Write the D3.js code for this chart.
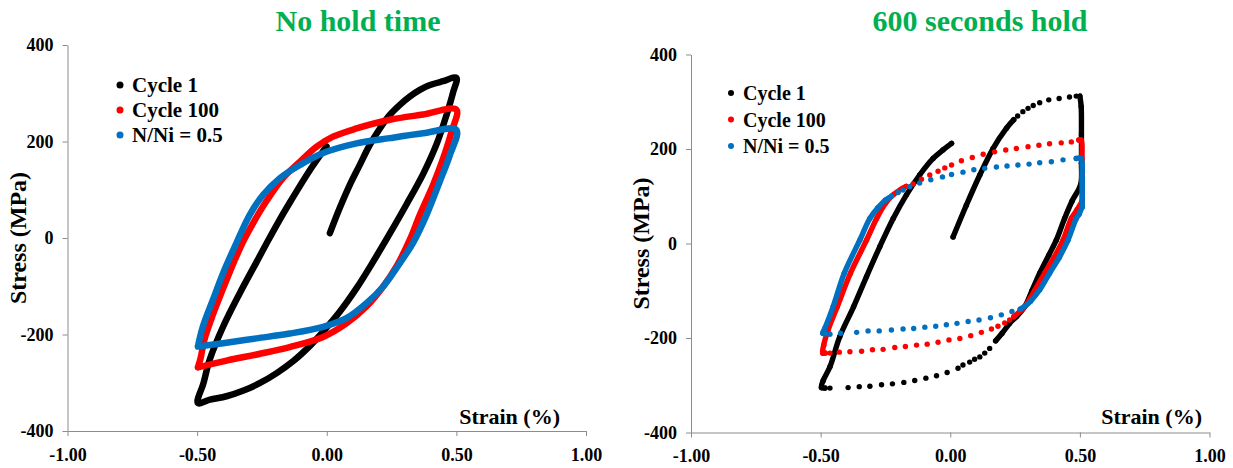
<!DOCTYPE html>
<html><head><meta charset="utf-8">
<script src="https://cdn.jsdelivr.net/npm/d3@7/dist/d3.min.js"></script>
<style>
body{margin:0;background:#fff}
text{font-family:"Liberation Serif","Times New Roman",serif;font-weight:bold}
</style>
</head><body>
<svg id="chart" width="1233" height="468"></svg>
<script>
// ---------- data ----------
const xTicks = [-1, -0.5, 0, 0.5, 1];
const yTicks = [-400, -200, 0, 200, 400];
const seriesNames = ["Cycle 1", "Cycle 100", "N/Ni = 0.5"];
const seriesColors = ["#000000", "#FF0000", "#0070C0"];
const panelTitles = ["No hold time", "600 seconds hold"];
const xLabel = "Strain (%)";
const yLabel = "Stress (MPa)";

// No hold time: [strain %, stress MPa]
const noHoldCycle1 = [
  [0.012,10],[0.05,62],[0.089,110],[0.127,151],[0.166,193],[0.205,227],[0.243,255],[0.282,276],
  [0.32,293],[0.359,307],[0.398,317],[0.449,325],[0.5,332],
  [0.488,303],[0.462,255],[0.424,195],[0.372,133],[0.308,70],[0.243,9],[0.179,-49],[0.115,-104],
  [0.05,-153],[-0.014,-194],[-0.064,-223],[-0.129,-255],[-0.193,-280],[-0.259,-301],[-0.321,-316],
  [-0.387,-328],[-0.45,-335],[-0.497,-342],
  [-0.475,-300],[-0.452,-253],[-0.4,-184],[-0.336,-115],[-0.271,-50],[-0.233,-12],[-0.19,30],
  [-0.143,73],[-0.066,140],[-0.001,190]
];
const noHoldCycle100 = [
  [-0.497,-268],[-0.487,-250],[-0.472,-211],[-0.44,-160],[-0.40,-105],[-0.36,-52],[-0.32,-5],
  [-0.285,30],[-0.233,76],[-0.169,124],[-0.104,158],[-0.04,189],[0.024,210],[0.115,227],[0.243,245],
  [0.372,256],[0.5,266],
  [0.481,220],[0.449,165],[0.41,110],[0.359,48],[0.32,-4],[0.269,-59],[0.217,-101],[0.153,-142],
  [0.076,-177],[-0.014,-205],[-0.143,-226],[-0.257,-240],[-0.386,-254],[-0.497,-268]
];
const noHoldHalfLife = [
  [-0.497,-225],[-0.478,-184],[-0.439,-128],[-0.4,-73],[-0.349,-11],[-0.297,48],[-0.246,89],
  [-0.181,124],[-0.104,151],[-0.014,176],[0.115,196],[0.243,207],[0.372,217],[0.5,224],
  [0.475,172],[0.436,117],[0.385,48],[0.333,-10],[0.282,-52],[0.217,-101],[0.153,-135],[0.076,-166],
  [-0.014,-184],[-0.143,-198],[-0.271,-208],[-0.4,-218],[-0.497,-225]
];

// 600 s hold: [strain %, stress MPa, densely sampled (1) / sparse sample (0)]
const holdCycle1 = [
  [0.011,14,1],[0.062,81,1],[0.114,145,1],[0.165,201,1],[0.217,244,1],[0.245,262,1],
  [0.26,270,0],[0.28,279,0],[0.30,286,0],[0.32,292,0],[0.345,298,0],[0.38,304,0],[0.42,307,0],
  [0.46,310,0],[0.486,312,0],[0.500,312,1],
  [0.505,290,1],[0.506,230,1],[0.506,170,1],[0.503,125,1],
  [0.47,90,1],[0.441,53,1],[0.409,7,1],[0.38,-25,1],[0.345,-63,1],[0.315,-100,1],[0.287,-134,1],
  [0.255,-155,1],[0.229,-169,1],[0.2,-190,1],[0.175,-206,1],
  [0.152,-222,0],[0.133,-232,0],[0.114,-240,0],[0.094,-245,0],[0.075,-251,0],[0.049,-257,0],
  [0.03,-264,0],[-0.012,-273,0],[-0.053,-280,0],[-0.094,-285,0],[-0.137,-290,0],[-0.179,-294,0],
  [-0.223,-297,0],[-0.265,-299,0],[-0.31,-302,0],[-0.351,-303,0],[-0.394,-305,0],[-0.464,-306,0],
  [-0.483,-306,1],
  [-0.497,-305,1],[-0.49,-290,1],[-0.464,-261,1],[-0.426,-197,1],[-0.373,-134,1],[-0.323,-70,1],
  [-0.272,-7,1],[-0.22,53,1],[-0.169,103,1],[-0.118,145,1],[-0.066,180,1],[-0.028,198,1],[0.005,212,1]
];
const holdCycle100 = [
  [0.509,90,1],[0.49,72,1],[0.467,53,1],[0.435,7,1],[0.40,-30,1],[0.364,-63,1],[0.325,-100,1],
  [0.29,-132,1],[0.27,-143,1],[0.245,-155,1],
  [0.229,-162,0],[0.21,-168,0],[0.184,-175,0],[0.159,-181,0],[0.12,-188,0],[0.079,-195,0],
  [0.037,-201,0],[-0.005,-204,0],[-0.047,-209,0],[-0.089,-213,0],[-0.13,-215,0],[-0.173,-218,0],
  [-0.214,-220,0],[-0.259,-224,0],[-0.3,-225,0],[-0.342,-228,0],[-0.387,-229,0],[-0.428,-230,0],
  [-0.464,-232,0],[-0.482,-232,1],
  [-0.492,-232,1],[-0.488,-215,1],[-0.471,-183,1],[-0.436,-134,1],[-0.385,-63,1],[-0.323,7,1],
  [-0.284,53,1],[-0.25,85,1],[-0.22,103,1],[-0.19,115,1],[-0.17,121,1],
  [-0.143,126,0],[-0.111,136,0],[-0.079,145,0],[-0.047,153,0],[-0.021,160,0],[0.005,166,0],
  [0.043,175,0],[0.085,182,0],[0.127,189,0],[0.171,194,0],[0.214,198,0],[0.255,201,0],[0.3,205,0],
  [0.342,208,0],[0.383,211,0],[0.428,213,0],[0.467,215,0],[0.496,219,1],
  [0.505,219,1],[0.508,180,1],[0.509,130,1],[0.509,90,1]
];
const holdHalfLife = [
  [0.509,78,1],[0.497,62,1],[0.486,53,1],[0.454,7,1],[0.42,-30,1],[0.383,-63,1],[0.345,-98,1],
  [0.31,-122,1],[0.29,-132,1],[0.27,-139,1],
  [0.238,-144,0],[0.197,-151,0],[0.155,-157,0],[0.111,-162,0],[0.069,-165,0],[0.026,-169,0],
  [-0.015,-172,0],[-0.056,-175,0],[-0.098,-177,0],[-0.141,-180,0],[-0.182,-181,0],[-0.227,-183,0],
  [-0.274,-185,0],[-0.317,-185,0],[-0.361,-188,0],[-0.423,-190,0],[-0.464,-192,0],[-0.482,-191,1],
  [-0.492,-190,1],[-0.484,-180,1],[-0.452,-134,1],[-0.409,-63,1],[-0.349,7,1],[-0.31,53,1],
  [-0.28,75,1],[-0.25,92,1],[-0.227,100,1],
  [-0.201,108,0],[-0.182,113,0],[-0.156,120,0],[-0.118,128,0],[-0.075,135,0],[-0.03,141,0],
  [0.005,146,0],[0.049,151,0],[0.091,156,0],[0.133,159,0],[0.178,162,0],[0.219,164,0],[0.261,166,0],
  [0.304,168,0],[0.345,171,0],[0.39,173,0],[0.435,177,0],[0.486,180,1],
  [0.505,180,1],[0.509,140,1],[0.509,78,1]
];

// ---------- drawing ----------
const svg = d3.select("#chart");
const axisColor = "#8C8C8C";

const panels = [
  {title: panelTitles[0], titleX: 358, x0: 67.5, x1: 586, yTop: 45, yBot: 431,
   series: [noHoldCycle1, noHoldCycle100, noHoldHalfLife], dotted: false,
   legX: 120, legY: 85, legStep: 25, legR: 3.5, legFont: 21, yLabX: 26, xLabEnd: 560},
  {title: panelTitles[1], titleX: 980, x0: 691, x1: 1209.5, yTop: 54.5, yBot: 432.5,
   series: [holdCycle1, holdCycle100, holdHalfLife], dotted: true,
   legX: 731, legY: 93, legStep: 26.5, legR: 3, legFont: 20, yLabX: 649, xLabEnd: 1202}
];

panels.forEach(p => {
  const x = d3.scaleLinear().domain([-1, 1]).range([p.x0, p.x1]);
  const y = d3.scaleLinear().domain([-400, 400]).range([p.yBot, p.yTop]);
  const g = svg.append("g");

  // title
  g.append("text").attr("x", p.titleX).attr("y", 31).attr("text-anchor", "middle")
    .attr("fill", "#00B050").attr("font-size", 30).text(p.title);

  // axes
  const ya = g.append("g").attr("transform", `translate(${p.x0},0)`)
    .call(d3.axisLeft(y).tickValues(yTicks).tickSize(5).tickSizeOuter(0).tickPadding(9)
      .tickFormat(d => String(d)));
  const xa = g.append("g").attr("transform", `translate(0,${p.yBot})`)
    .call(d3.axisBottom(x).tickValues(xTicks).tickSize(5).tickSizeOuter(0).tickPadding(12)
      .tickFormat(d => d.toFixed(2)));
  [ya, xa].forEach(a => {
    a.selectAll("path,line").attr("stroke", axisColor).attr("stroke-width", 1);
    a.selectAll("text").attr("font-size", 18).attr("fill", "#000")
      .attr("font-family", '"Liberation Serif","Times New Roman",serif').attr("font-weight", "bold");
  });

  // axis titles
  g.append("text").attr("transform", `translate(${p.yLabX},${(p.yTop + p.yBot) / 2}) rotate(-90)`)
    .attr("text-anchor", "middle").attr("font-size", 24).text(yLabel);
  g.append("text").attr("x", p.xLabEnd).attr("y", 424).attr("text-anchor", "end")
    .attr("font-size", 22).text(xLabel);

  // data
  p.series.forEach((s, i) => {
    const col = seriesColors[i];
    const line = d3.line().x(d => x(d[0])).y(d => y(d[1])).curve(d3.curveCatmullRom.alpha(0.5));
    if (!p.dotted) {
      g.append("path").attr("d", line(s)).attr("fill", "none").attr("stroke", col)
        .attr("stroke-width", 6.5).attr("stroke-linecap", "round").attr("stroke-linejoin", "round");
    } else {
      // densely sampled runs appear as a continuous band of markers
      const runs = [];
      let cur = [];
      s.forEach(d => {
        if (d[2] === 1) cur.push(d);
        else { if (cur.length > 1) runs.push(cur); cur = []; }
      });
      if (cur.length > 1) runs.push(cur);
      runs.forEach(r => {
        g.append("path").attr("d", line(r)).attr("fill", "none").attr("stroke", col)
          .attr("stroke-width", 5.4).attr("stroke-linecap", "round").attr("stroke-linejoin", "round");
      });
      g.selectAll(null).data(s).enter().append("circle")
        .attr("cx", d => x(d[0])).attr("cy", d => y(d[1])).attr("r", 2.7).attr("fill", col);
    }
  });

  // legend
  seriesNames.forEach((n, i) => {
    const ly = p.legY + i * p.legStep;
    g.append("circle").attr("cx", p.legX).attr("cy", ly).attr("r", p.legR).attr("fill", seriesColors[i]);
    g.append("text").attr("x", p.legX + 12).attr("y", ly + 7).attr("font-size", p.legFont).text(n);
  });
});
</script>
</body></html>
